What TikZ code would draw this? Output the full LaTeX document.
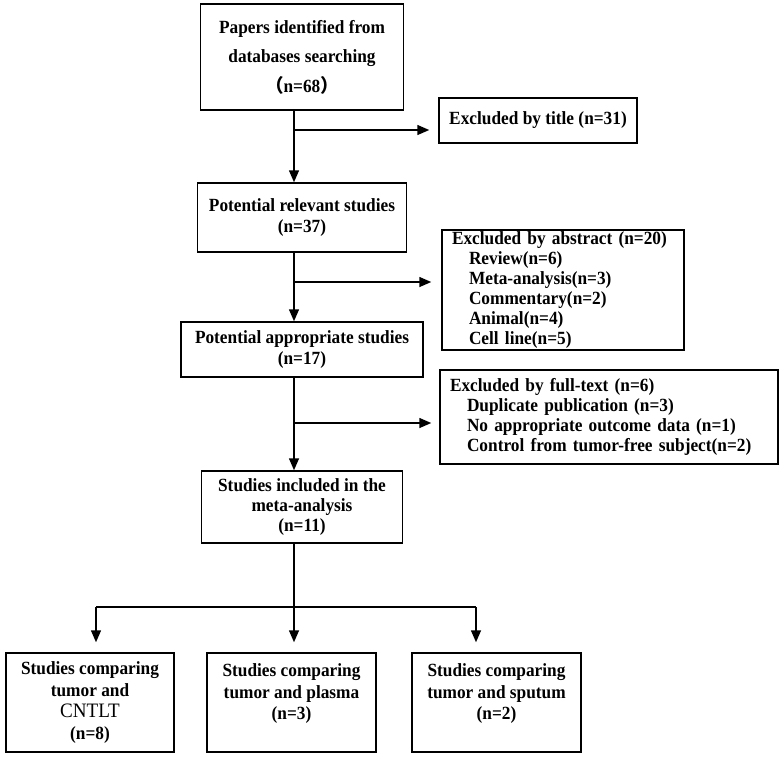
\documentclass[tikz,border=0pt]{standalone}
\usepackage{fontspec}
\setmainfont{Liberation Serif}[FakeStretch=0.93]
\newfontfamily\cjk{Noto Sans CJK SC}
\usetikzlibrary{arrows.meta,positioning}

\begin{document}
\begin{tikzpicture}[x=1pt,y=-1pt,on grid,
    box/.style={draw,line width=1.5pt,align=center,inner sep=2pt,
      font=\fontsize{18.6}{21.7}\selectfont\bfseries},
    side/.style={box,align=left,inner xsep=10pt,inner ysep=1pt,
      font=\fontsize{18.6}{20}\selectfont\bfseries},
    arr/.style={line width=1.5pt,-{Triangle[width=10pt,length=12pt]}}]
    \useasboundingbox (0,0) rectangle (781,761);

    \node[box,minimum width=203pt,minimum height=106pt,
      font=\fontsize{18.6}{29.5}\selectfont\bfseries] (ident) at (302,57)
      {Papers identified from\\databases searching\\{\cjk （}n=68{\cjk ）}};
    \node[box,minimum width=209pt,minimum height=69pt] (relev) [below=160.5pt of ident]
      {Potential relevant studies\\(n=37)};
    \node[box,minimum width=242pt,minimum height=55pt] (approp) [below=132pt of relev]
      {Potential appropriate studies\\(n=17)};
    \node[box,minimum width=201pt,minimum height=72pt,
      font=\fontsize{18.6}{20}\selectfont\bfseries] (incl) [below=157.5pt of approp]
      {Studies included in the\\meta-analysis\\(n=11)};

    \node[box,minimum width=198pt,minimum height=45pt] (title) [below right=63.5pt and 236pt of ident]
      {Excluded by title (n=31)};
    \node[side,text width=222pt,minimum height=120pt] (abstr) [below right=72.5pt and 261pt of relev]
      {Excluded by abstract (n=20)\\
       \hspace*{17pt}Review(n=6)\\
       \hspace*{17pt}Meta-analysis(n=3)\\
       \hspace*{17pt}Commentary(n=2)\\
       \hspace*{17pt}Animal(n=4)\\
       \hspace*{17pt}Cell line(n=5)};
    \node[side,text width=318pt,minimum height=94pt] (fulltxt) [below right=67.5pt and 307pt of approp]
      {Excluded by full-text (n=6)\\
       \hspace*{17pt}Duplicate publication (n=3)\\
       \hspace*{17pt}No appropriate outcome data (n=1)\\
       \hspace*{17pt}Control from tumor-free subject(n=2)};

    \node[box,minimum width=169pt,minimum height=99pt] (plasma) [below left=195.5pt and 10.5pt of incl]
      {Studies comparing\\tumor and plasma\\(n=3)\\\mbox{}};
    \node[box,minimum width=168pt,minimum height=99pt] (cntlt) [left=201.5pt of plasma]
      {Studies comparing\\tumor and\\{\mdseries\fontsize{20.5}{21.7}\selectfont CNTLT}\\(n=8)};
    \node[box,minimum width=169pt,minimum height=99pt] (sputum) [right=205pt of plasma]
      {Studies comparing\\tumor and sputum\\(n=2)\\\mbox{}};

    \coordinate (t1) at (294,130);
    \coordinate (t2) at (294,282);
    \coordinate (t3) at (294,423);
    \coordinate (fork) at (294,607);
    \coordinate (fl) at (96,607);
    \coordinate (fr) at (476,607);

    \draw[arr] (ident.south -| t1) -- (relev.north -| t1);
    \draw[arr,shorten >=9pt] (t1) -- (t1 -| title.west);
    \draw[arr] (relev.south -| t2) -- (approp.north -| t2);
    \draw[arr,shorten >=10pt] (t2) -- (t2 -| abstr.west);
    \draw[arr] (approp.south -| t3) -- (incl.north -| t3);
    \draw[arr,shorten >=8pt] (t3) -- (t3 -| fulltxt.west);
    \draw[arr,shorten >=10pt] (incl.south -| fork) -- (fork |- plasma.north);
    \draw[line width=1.5pt] (fl) -- (fr);
    \draw[arr,shorten >=10pt] (fl) -- (fl |- cntlt.north);
    \draw[arr,shorten >=10pt] (fr) -- (fr |- sputum.north);
\end{tikzpicture}
\end{document}
